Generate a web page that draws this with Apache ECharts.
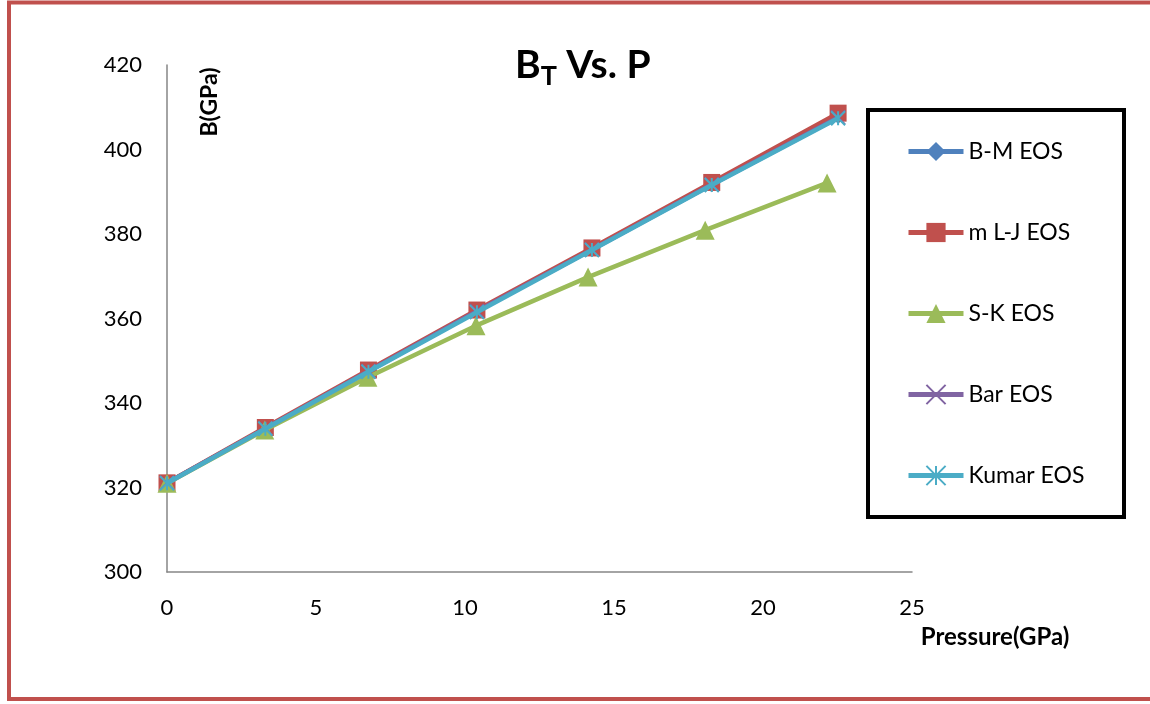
<!DOCTYPE html>
<html>
<head>
<meta charset="utf-8">
<script src="https://cdn.jsdelivr.net/npm/echarts@6/dist/echarts.min.js"></script>
<style>
html,body{margin:0;padding:0;background:#fff;}
#chart{width:1150px;height:704px;}
</style>
</head>
<body>
<div id="chart"></div>
<script>
const seriesNames = ['B-M EOS', 'm L-J EOS', 'S-K EOS', 'Bar EOS', 'Kumar EOS'];
const pressure = [0, 3.30, 6.76, 10.40, 14.26, 18.28, 22.52];
const pressureSK = [0, 3.28, 6.74, 10.37, 14.13, 18.06, 22.15];
const bmValues = [321.1, 334.0, 347.6, 361.8, 376.4, 391.8, 407.9];
const mljValues = [321.1, 334.2, 347.8, 362.0, 376.7, 392.2, 408.6];
const skValues = [321.0, 333.6, 346.1, 358.3, 369.8, 380.9, 392.1];
const barValues = [321.1, 334.0, 347.5, 361.7, 376.3, 391.7, 407.6];
const kumarValues = [321.0, 333.9, 347.4, 361.5, 376.2, 391.6, 407.4];
const xTicks = [0, 5, 10, 15, 20, 25];
const yTicks = [300, 320, 340, 360, 380, 400, 420];

const pairs = (xs, ys) => xs.map((x, i) => [x, ys[i]]);
const FONT = 'Lato';
const crossPath = 'path://M0,0L10,10M10,0L0,10';
const starPath = 'path://M0,0L10,10M10,0L0,10M5,0L5,10';

const chart = echarts.init(document.getElementById('chart'), null, {renderer: 'canvas'});
const colors = ['#4F81BD', '#C0504D', '#9BBB59', '#8064A2', '#4BACC6'];

function lineSeries(idx, data, symbol, size, stroked) {
  const c = colors[idx];
  return {
    name: seriesNames[idx],
    type: 'line',
    data: data,
    symbol: symbol,
    symbolSize: size,
    showAllSymbol: true,
    lineStyle: {color: c, width: 4.5},
    itemStyle: stroked ? {color: 'rgba(0,0,0,0)', borderColor: c, borderWidth: 2} : {color: c, borderWidth: 0},
    emphasis: {disabled: true},
    z: 2 + idx
  };
}

chart.setOption({
  animation: false,
  backgroundColor: '#ffffff',
  color: colors,
  title: {
    text: '{a|B}{s|T}{a| Vs. P}',
    left: 510,
    top: 36,
    textStyle: {
      rich: {
        a: {fontFamily: FONT, fontWeight: 'bold', fontSize: 39, color: '#000'},
        s: {fontFamily: FONT, fontWeight: 'bold', fontSize: 27, color: '#000', padding: [22, 0, 0, 0]}
      }
    }
  },
  grid: {left: 167, right: 238, top: 65, bottom: 132, containLabel: false},
  xAxis: {
    type: 'value',
    min: 0, max: 25, interval: 5,
    axisLine: {show: true, lineStyle: {color: '#868686', width: 1.5}},
    axisTick: {show: false},
    splitLine: {show: false},
    axisLabel: {
      margin: 25, fontFamily: FONT, fontSize: 22, color: '#000',
      formatter: v => xTicks.includes(v) ? String(v) : ''
    }
  },
  yAxis: {
    type: 'value',
    min: 300, max: 420, interval: 20,
    axisLine: {show: true, lineStyle: {color: '#868686', width: 1.5}},
    axisTick: {show: false},
    splitLine: {show: false},
    axisLabel: {
      margin: 25, fontFamily: FONT, fontSize: 22, color: '#000',
      formatter: v => yTicks.includes(v) ? String(v) : ''
    }
  },
  legend: {
    orient: 'vertical',
    left: 906,
    top: 140,
    itemWidth: 55,
    itemHeight: 24,
    itemGap: 58,
    padding: 0,
    lineStyle: {width: 5},
    textStyle: {fontFamily: FONT, fontSize: 23, color: '#000'},
    data: seriesNames
  },
  graphic: [
    {type: 'rect', silent: true, z: 0,
     shape: {x: 9, y: 2.5, width: 1200, height: 696.5},
     style: {fill: null, stroke: '#C0504D', lineWidth: 4}},
    {type: 'rect', silent: true, z: 0,
     shape: {x: 868, y: 110, width: 256, height: 407},
     style: {fill: null, stroke: '#000', lineWidth: 4}},
    {type: 'text', silent: true, x: 210, y: 102, rotation: Math.PI / 2,
     style: {text: 'B(GPa)', fontFamily: FONT, fontWeight: 'bold', fontSize: 23, fill: '#000', align: 'center', verticalAlign: 'middle'}},
    {type: 'text', silent: true, x: 995, y: 637,
     style: {text: 'Pressure(GPa)', fontFamily: FONT, fontWeight: 'bold', fontSize: 24, fill: '#000', align: 'center', verticalAlign: 'middle'}}
  ],
  series: [
    lineSeries(0, pairs(pressure, bmValues), 'diamond', 16, false),
    lineSeries(1, pairs(pressure, mljValues), 'rect', 17, false),
    lineSeries(2, pairs(pressureSK, skValues), 'triangle', 19, false),
    lineSeries(3, pairs(pressure, barValues), crossPath, 14, true),
    lineSeries(4, pairs(pressure, kumarValues), starPath, 14, true)
  ]
});
</script>
</body>
</html>
